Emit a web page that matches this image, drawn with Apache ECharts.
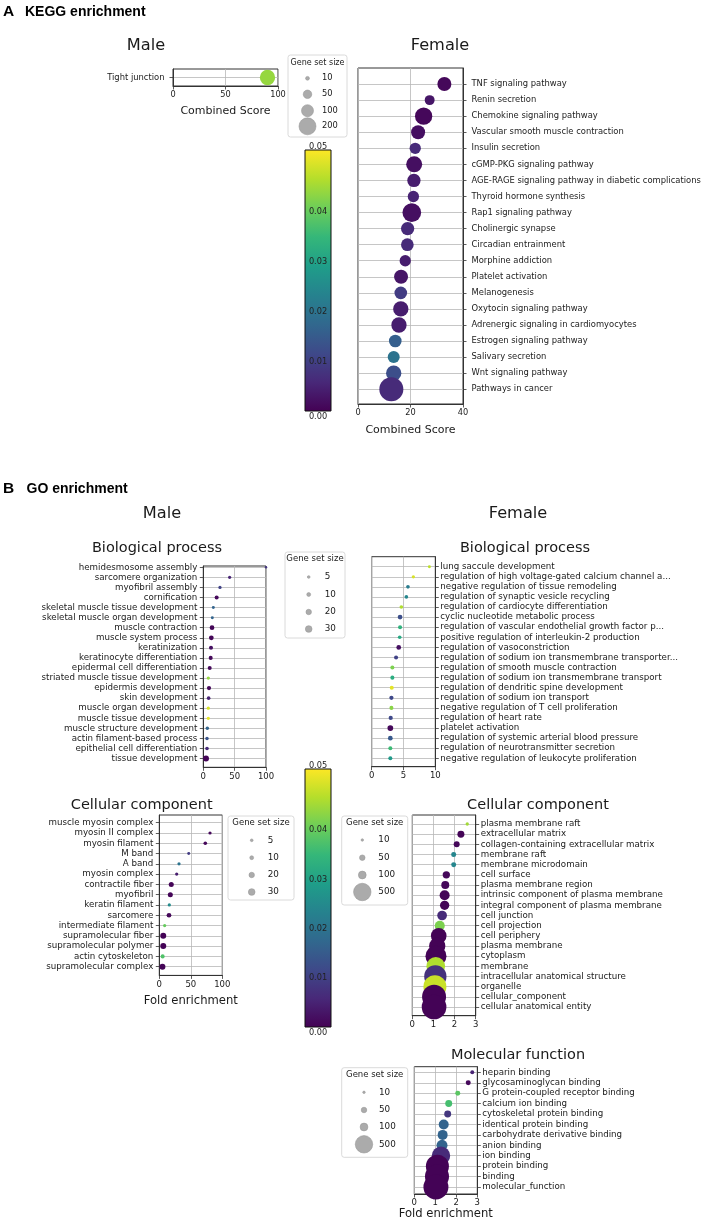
<!DOCTYPE html>
<html><head><meta charset="utf-8">
<script src="https://cdn.jsdelivr.net/npm/echarts@6/dist/echarts.min.js"></script>
<style>html,body{margin:0;padding:0;background:#fff}#c{width:709px;height:1222px}</style>
</head><body><div id="c"></div>
<script>
// ---------------- DATA ----------------
const keggMaleTerms = ['Tight junction'];
const keggMaleScore = [90];
const keggMaleSize = [163];
const keggMaleP = [0.042];

const keggFemaleTerms = ['TNF signaling pathway','Renin secretion','Chemokine signaling pathway','Vascular smooth muscle contraction','Insulin secretion','cGMP-PKG signaling pathway','AGE-RAGE signaling pathway in diabetic complications','Thyroid hormone synthesis','Rap1 signaling pathway','Cholinergic synapse','Circadian entrainment','Morphine addiction','Platelet activation','Melanogenesis','Oxytocin signaling pathway','Adrenergic signaling in cardiomyocytes','Estrogen signaling pathway','Salivary secretion','Wnt signaling pathway','Pathways in cancer'];
const keggFemaleScore = [32.9, 27.3, 25.0, 22.9, 21.8, 21.4, 21.3, 21.1, 20.5, 18.9, 18.8, 18.0, 16.4, 16.3, 16.3, 15.6, 14.2, 13.6, 13.6, 12.7];
const keggFemaleSize = [136, 69, 208, 136, 89, 178, 123, 89, 242, 123, 111, 89, 136, 111, 163, 163, 111, 100, 163, 400];
const keggFemaleP = [0.001, 0.003, 0.001, 0.002, 0.006, 0.002, 0.004, 0.005, 0.002, 0.006, 0.006, 0.004, 0.003, 0.009, 0.004, 0.004, 0.015, 0.019, 0.012, 0.006];

const maleBPTerms = ['hemidesmosome assembly','sarcomere organization','myofibril assembly','cornification','skeletal muscle tissue development','skeletal muscle organ development','muscle contraction','muscle system process','keratinization','keratinocyte differentiation','epidermal cell differentiation','striated muscle tissue development','epidermis development','skin development','muscle organ development','muscle tissue development','muscle structure development','actin filament-based process','epithelial cell differentiation','tissue development'];
const maleBPFold = [100, 42, 26.6, 21.3, 16, 14.4, 13.9, 12.8, 12.3, 11.8, 10.2, 8, 9.1, 8.5, 8, 8, 6.4, 5.9, 5.9, 4.3];
const maleBPSize = [4, 7, 7, 11, 6, 6, 15, 15, 11, 11, 11, 7, 12, 9, 7, 7, 8, 8, 9, 24];
const maleBPP = [0.008, 0.005, 0.010, 0.001, 0.016, 0.016, 0.0005, 0.0005, 0.002, 0.001, 0.001, 0.042, 0.001, 0.005, 0.047, 0.048, 0.016, 0.013, 0.006, 0.0005];

const femaleBPTerms = ['lung saccule development','regulation of high voltage-gated calcium channel a...','negative regulation of tissue remodeling','regulation of synaptic vesicle recycling','regulation of cardiocyte differentiation','cyclic nucleotide metabolic process','regulation of vascular endothelial growth factor p...','positive regulation of interleukin-2 production','regulation of vasoconstriction','regulation of sodium ion transmembrane transporter...','regulation of smooth muscle contraction','regulation of sodium ion transmembrane transport','regulation of dendritic spine development','regulation of sodium ion transport','negative regulation of T cell proliferation','regulation of heart rate','platelet activation','regulation of systemic arterial blood pressure','regulation of neurotransmitter secretion','negative regulation of leukocyte proliferation'];
const femaleBPFold = [9.07, 6.55, 5.7, 5.45, 4.66, 4.46, 4.46, 4.4, 4.25, 3.83, 3.25, 3.25, 3.15, 3.1, 3.1, 2.99, 2.93, 2.93, 2.93, 2.93];
const femaleBPSize = [6, 7, 9, 9, 9, 15, 11, 9, 15, 11, 11, 11, 11, 12, 11, 12, 22, 15, 11, 11];
const femaleBPP = [0.045, 0.047, 0.021, 0.023, 0.044, 0.012, 0.032, 0.030, 0.002, 0.010, 0.040, 0.031, 0.048, 0.011, 0.041, 0.011, 0.001, 0.014, 0.034, 0.027];

const maleCCTerms = ['muscle myosin complex','myosin II complex','myosin filament','M band','A band','myosin complex','contractile fiber','myofibril','keratin filament','sarcomere','intermediate filament','supramolecular fiber','supramolecular polymer','actin cytoskeleton','supramolecular complex'];
const maleCCFold = [130, 80.5, 73, 46.7, 31.3, 27.6, 19, 17.5, 15.9, 15.4, 8.5, 6.3, 6.3, 5.3, 5.0];
const maleCCSize = [6, 7, 9, 6, 7, 7, 17, 17, 7, 15, 7, 24, 24, 11, 24];
const maleCCP = [0.002, 0.001, 0.001, 0.009, 0.019, 0.004, 0.0005, 0.0005, 0.024, 0.001, 0.038, 0.0003, 0.0003, 0.036, 0.0005];

const femaleCCTerms = ['plasma membrane raft','extracellular matrix','collagen-containing extracellular matrix','membrane raft','membrane microdomain','cell surface','plasma membrane region','intrinsic component of plasma membrane','integral component of plasma membrane','cell junction','cell projection','cell periphery','plasma membrane','cytoplasm','membrane','intracellular anatomical structure','organelle','cellular_component','cellular anatomical entity'];
const femaleCCFold = [2.6, 2.3, 2.1, 1.96, 1.96, 1.61, 1.56, 1.53, 1.53, 1.41, 1.3, 1.25, 1.18, 1.12, 1.11, 1.09, 1.07, 1.03, 1.03];
const femaleCCSize = [18, 80, 59, 41, 41, 88, 105, 164, 142, 155, 164, 405, 437, 725, 575, 817, 870, 947, 1000];
const femaleCCP = [0.043, 0.0005, 0.001, 0.023, 0.023, 0.001, 0.001, 0.0005, 0.0005, 0.006, 0.040, 0.0003, 0.0003, 0.0003, 0.044, 0.007, 0.046, 0.0003, 0.0003];

const femaleMFTerms = ['heparin binding','glycosaminoglycan binding','G protein-coupled receptor binding','calcium ion binding','cytoskeletal protein binding','identical protein binding','carbohydrate derivative binding','anion binding','ion binding','protein binding','binding','molecular_function'];
const femaleMFFold = [2.76, 2.57, 2.07, 1.64, 1.59, 1.4, 1.35, 1.32, 1.27, 1.1, 1.08, 1.03];
const femaleMFSize = [26, 41, 41, 80, 80, 164, 164, 199, 560, 870, 950, 1027];
const femaleMFP = [0.005, 0.001, 0.037, 0.035, 0.008, 0.016, 0.016, 0.016, 0.006, 0.0003, 0.0003, 0.0003];

const keggLegendSizes = [10, 50, 100, 200];
const goMaleLegendSizes = [5, 10, 20, 30];
const goFemaleLegendSizes = [10, 50, 100, 500];
const colorbarTicks = [0.05, 0.04, 0.03, 0.02, 0.01, 0.00];
const pMax = 0.05;

// ---------------- STYLE / LAYOUT ----------------
const FONT = 'DejaVu Sans';
const viridis = ['#440154','#482878','#3e4989','#31688e','#26828e','#1f9e89','#35b779','#6ece58','#b5de2b','#fde725'];
const AX = '#333333', GRIDC = '#b8b8b8', TXT = '#1a1a1a';

const panels = [
  {terms: keggMaleTerms, x: keggMaleScore, size: keggMaleSize, p: keggMaleP, k: 1.2,
   grid: {left: 173, top: 69, width: 105, height: 17}, xMin: 0, xMax: 100, xInt: 50,
   yMin: -0.5, yMax: 0.5, side: 'left', fs: 8.4, lm: 8.5, xfs: 8.2, xName: 'Combined Score', nameGap: 19.5, nameFs: 11},
  {terms: keggFemaleTerms, x: keggFemaleScore, size: keggFemaleSize, p: keggFemaleP, k: 1.2,
   grid: {left: 358, top: 68, width: 105, height: 336}, xMin: 0, xMax: 40, xInt: 20,
   yMin: -1.0, yMax: 19.92, side: 'right', fs: 8.4, lm: 8.5, xfs: 8.2, xName: 'Combined Score', nameGap: 20.5, nameFs: 11},
  {terms: maleBPTerms, x: maleBPFold, size: maleBPSize, p: maleBPP, k: 1.22,
   grid: {left: 203.3, top: 566, width: 62.7, height: 201.3}, xMin: 0, xMax: 100, xInt: 50,
   yMin: -0.13, yMax: 19.87, side: 'left', fs: 8.7, lm: 6, xfs: 8.5},
  {terms: femaleBPTerms, x: femaleBPFold, size: femaleBPSize, p: femaleBPP, k: 1.22,
   grid: {left: 371.7, top: 556.7, width: 63.6, height: 210}, xMin: 0, xMax: 10, xInt: 5,
   yMin: -0.99, yMax: 19.83, side: 'right', fs: 8.7, lm: 5, xfs: 8.5},
  {terms: maleCCTerms, x: maleCCFold, size: maleCCSize, p: maleCCP, k: 1.22,
   grid: {left: 159.3, top: 815, width: 63, height: 160.4}, xMin: 0, xMax: 100, xInt: 50,
   yMin: -0.75, yMax: 14.85, side: 'left', fs: 8.7, lm: 6, xfs: 8.5, xName: 'Fold enrichment', nameGap: 19.5, nameFs: 11.6},
  {terms: femaleCCTerms, x: femaleCCFold, size: femaleCCSize, p: femaleCCP, k: 0.78,
   grid: {left: 412.3, top: 815, width: 63.4, height: 200.7}, xMin: 0, xMax: 3, xInt: 1,
   yMin: -0.885, yMax: 18.855, side: 'right', fs: 8.7, lm: 5, xfs: 8.5},
  {terms: femaleMFTerms, x: femaleMFFold, size: femaleMFSize, p: femaleMFP, k: 0.78,
   grid: {left: 414.3, top: 1066.7, width: 63, height: 127.3}, xMin: 0, xMax: 3, xInt: 1,
   yMin: -0.54, yMax: 11.67, side: 'right', fs: 8.7, lm: 5, xfs: 8.5, xName: 'Fold enrichment', nameGap: 14, nameFs: 11.6}
];

const grid = [], xAxis = [], yAxis = [], series = [];
panels.forEach((P, gi) => {
  grid.push(Object.assign({show: true, borderColor: AX, borderWidth: 1, backgroundColor: 'transparent', containLabel: false}, P.grid));
  xAxis.push({
    type: 'value', gridIndex: gi, min: P.xMin, max: P.xMax, interval: P.xInt,
    axisLine: {show: true, onZero: false, lineStyle: {color: AX, width: 1}},
    axisTick: {show: true, length: 3.5, lineStyle: {color: AX, width: 0.8}},
    axisLabel: {fontSize: P.xfs, fontFamily: FONT, color: TXT, margin: 4.5},
    splitLine: {show: true, lineStyle: {color: GRIDC, width: 0.8}},
    name: P.xName || '', nameLocation: 'middle', nameGap: P.nameGap || 15,
    nameTextStyle: {fontSize: P.nameFs || 11, fontFamily: FONT, color: TXT}
  });
  const idx = P.terms.map((t, i) => i);
  yAxis.push({
    type: 'value', gridIndex: gi, inverse: true, min: P.yMin, max: P.yMax, position: P.side,
    axisLine: {show: true, onZero: false, lineStyle: {color: AX, width: 1}},
    axisTick: {show: true, length: 3.5, customValues: idx, lineStyle: {color: AX, width: 0.8}},
    axisLabel: {show: true, customValues: idx, fontSize: P.fs, fontFamily: FONT, color: TXT, margin: P.lm,
      formatter: v => P.terms[Math.round(v)] || ''},
    splitLine: {show: true, lineStyle: {color: GRIDC, width: 0.8}}
  });
  series.push({
    type: 'scatter', xAxisIndex: gi, yAxisIndex: gi, clip: true,
    data: P.terms.map((t, i) => [P.x[i], i, P.size[i], P.p[i]]),
    symbolSize: d => P.k * Math.sqrt(d[2]),
    itemStyle: {opacity: 1},
    emphasis: {disabled: true},
    encode: {x: 0, y: 1}
  });
});

// ---------------- GRAPHIC (titles, legends, colorbars) ----------------
const g = [];
function txt(s, x, y, fs, opt) {
  opt = opt || {};
  g.push({type: 'text', x: x, y: y, z: 100, silent: true,
    style: {text: s, fontSize: fs, fontFamily: opt.family || FONT, fontWeight: opt.weight || 'normal',
      fill: opt.color || TXT, align: opt.align || 'center', textAlign: opt.align || 'center',
      verticalAlign: 'middle', textVerticalAlign: 'middle'}});
}
// section headers
txt('A', 3, 12, 15.5, {family: 'Liberation Sans', weight: 'bold', align: 'left', color: '#000'});
txt('KEGG enrichment', 25, 12.5, 14, {family: 'Liberation Sans', weight: 'bold', align: 'left', color: '#000'});
txt('B', 3, 489, 15.5, {family: 'Liberation Sans', weight: 'bold', align: 'left', color: '#000'});
txt('GO enrichment', 26.5, 489.5, 14, {family: 'Liberation Sans', weight: 'bold', align: 'left', color: '#000'});
// panel titles
txt('Male', 146, 45.7, 16.2);
txt('Female', 440, 45.7, 16.2);
txt('Male', 162, 514, 16.2);
txt('Female', 518, 514, 16.2);
txt('Biological process', 157, 548, 14.5);
txt('Biological process', 525, 548, 14.5);
txt('Cellular component', 141.7, 805, 14.5);
txt('Cellular component', 538, 805, 14.5);
txt('Molecular function', 518, 1055.7, 14.5);

// size legends
function sizeLegend(L) {
  g.push({type: 'rect', z: 90, silent: true, shape: {x: L.x, y: L.y, width: L.w, height: L.h, r: 2.5},
    style: {fill: '#ffffff', stroke: '#d0d0d0', lineWidth: 0.8}});
  txt('Gene set size', L.x + L.w / 2, L.titleY, L.fs);
  L.sizes.forEach((s, i) => {
    g.push({type: 'circle', z: 95, silent: true, shape: {cx: L.cx, cy: L.ys[i], r: L.k * Math.sqrt(s) / 2},
      style: {fill: '#ababab', stroke: '#9a9a9a', lineWidth: 0.6}});
    txt(String(s), L.lx, L.ys[i], L.fs + 0.3, {align: 'left'});
  });
}
sizeLegend({x: 288, y: 55, w: 59, h: 82, titleY: 62.7, ys: [78.3, 94.3, 110.7, 126.3], cx: 307.5, lx: 322, k: 1.2, fs: 8, sizes: keggLegendSizes});
sizeLegend({x: 285, y: 552, w: 60, h: 86, titleY: 559, ys: [577, 594.5, 612, 629], cx: 308.7, lx: 324.7, k: 1.22, fs: 8.5, sizes: goMaleLegendSizes});
sizeLegend({x: 228, y: 816, w: 66, h: 84, titleY: 822.7, ys: [840.3, 857.7, 875, 892], cx: 251.7, lx: 267.7, k: 1.22, fs: 8.5, sizes: goMaleLegendSizes});
sizeLegend({x: 341.7, y: 816, w: 66, h: 89, titleY: 822.7, ys: [840, 857.7, 875, 892], cx: 362.3, lx: 378.3, k: 0.78, fs: 8.5, sizes: goFemaleLegendSizes});
sizeLegend({x: 341.7, y: 1067.7, w: 66, h: 89.6, titleY: 1075, ys: [1092.3, 1110, 1127, 1144.3], cx: 364, lx: 379, k: 0.78, fs: 8.5, sizes: goFemaleLegendSizes});

// colorbars
const cbFrac = [-0.0126, 0.236, 0.428, 0.620, 0.811, 1.022];
function colorbar(C) {
  const stops = viridis.map((c, i) => ({offset: 1 - i / (viridis.length - 1), color: c}));
  stops.reverse();
  g.push({type: 'rect', z: 80, silent: true, shape: {x: C.x, y: C.y, width: C.w, height: C.h},
    style: {fill: {type: 'linear', x: 0, y: 0, x2: 0, y2: 1, colorStops: stops}, stroke: '#111', lineWidth: 1}});
  colorbarTicks.forEach((v, i) => {
    txt(v.toFixed(2), C.x + C.w / 2, C.y + cbFrac[i] * C.h, 8.2, {color: '#222'});
  });
}
colorbar({x: 305, y: 150, w: 26, h: 261});
colorbar({x: 305, y: 769, w: 26, h: 258});

const chart = echarts.init(document.getElementById('c'), null, {renderer: 'canvas'});
chart.setOption({
  animation: false,
  backgroundColor: '#ffffff',
  grid, xAxis, yAxis, series,
  visualMap: {show: false, type: 'continuous', min: 0, max: pMax, dimension: 3,
    seriesIndex: series.map((s, i) => i), inRange: {color: viridis}},
  graphic: g
});
</script>
</body></html>
